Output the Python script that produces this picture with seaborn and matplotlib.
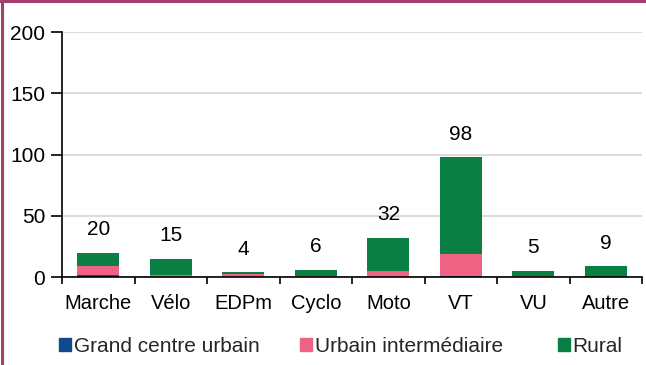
import numpy as np
import pandas as pd
import matplotlib
matplotlib.use("Agg")
import matplotlib.pyplot as plt
from matplotlib.patches import Rectangle
import seaborn as sns

categories = ["Marche", "Vélo", "EDPm", "Cyclo", "Moto", "VT", "VU", "Autre"]
grand_centre = [1.5, 0.3, 0.2, 0.2, 0.3, 0.5, 0.2, 0.1]
urbain_inter = [7.5, 1.2, 2.5, 0.8, 4.7, 18.5, 0.8, 0.3]
rural = [11.0, 13.5, 1.3, 5.0, 27.0, 79.0, 4.0, 8.6]
totals = [20, 15, 4, 6, 32, 98, 5, 9]
series_names = ["Grand centre urbain", "Urbain intermédiaire", "Rural"]
colors = ["#0E4A8C", "#EE6384", "#0A7F43"]

sns.set_theme(style="white")
plt.rcParams["font.family"] = ["Liberation Sans", "DejaVu Sans"]

df = pd.DataFrame({
    "cat": categories,
    "g": grand_centre,
    "u": urbain_inter,
    "r": rural,
})
df["gu"] = df["g"] + df["u"]
df["gur"] = df["gu"] + df["r"]

fig = plt.figure(figsize=(6.46, 3.65), dpi=100)
ax = fig.add_axes([0.096, 0.241, 0.898, 0.671])

# stacked bars: draw cumulative layers from the top down
for col, c in zip(["gur", "gu", "g"], colors[::-1]):
    sns.barplot(data=df, x="cat", y=col, color=c, width=0.58,
                saturation=1, ax=ax, linewidth=0, zorder=3)

ax.set_ylim(0, 200)
ax.set_xlim(-0.5, len(categories) - 0.5)
ax.set_yticks([0, 50, 100, 150, 200])
ax.yaxis.grid(True, color="#D9D9D9", linewidth=1.3, zorder=0)
ax.set_axisbelow(True)
ax.set_xlabel("")
ax.set_ylabel("")

for s in ["top", "right"]:
    ax.spines[s].set_visible(False)
for s in ["left", "bottom"]:
    ax.spines[s].set_color("black")
    ax.spines[s].set_linewidth(1.2)
    ax.spines[s].set_zorder(5)

ax.tick_params(axis="y", which="major", left=True, length=8, width=1.2,
               color="black", labelsize=15, pad=4, labelcolor="black")
ax.tick_params(axis="x", which="major", bottom=False, labelsize=14.5,
               pad=6.5, labelcolor="black")
ax.set_xticks(np.arange(-0.5, len(categories), 1.0), minor=True)
ax.tick_params(axis="x", which="minor", bottom=True, length=5, width=1.2,
               color="black")

for i, t in enumerate(totals):
    ax.annotate(f"{t}", xy=(i, df["gur"].iloc[i]), xytext=(0, 16.5),
                textcoords="offset points", ha="center", va="center",
                fontsize=15, color="black")

# one legend entry per slot, left edges spaced like the original layout
slot_x = [59, 300, 558]
for name, c, x in zip(series_names, colors, slot_x):
    leg = fig.legend([Rectangle((0, 0), 1, 1, color=c)], [name],
                     loc="center left", bbox_to_anchor=(x / 646, 0.052),
                     frameon=False, fontsize=15, handlelength=0.58,
                     handleheight=0.58, handletextpad=0.12,
                     borderpad=0, borderaxespad=0)

# figure frame
fig.add_artist(plt.Line2D([0, 1], [0.996, 0.996], color="#A0406E",
                          linewidth=2.2, transform=fig.transFigure))
fig.add_artist(plt.Line2D([0.003, 0.003], [0, 1], color="#A0406E",
                          linewidth=2.2, transform=fig.transFigure))

fig.savefig("out.png", dpi=100)
